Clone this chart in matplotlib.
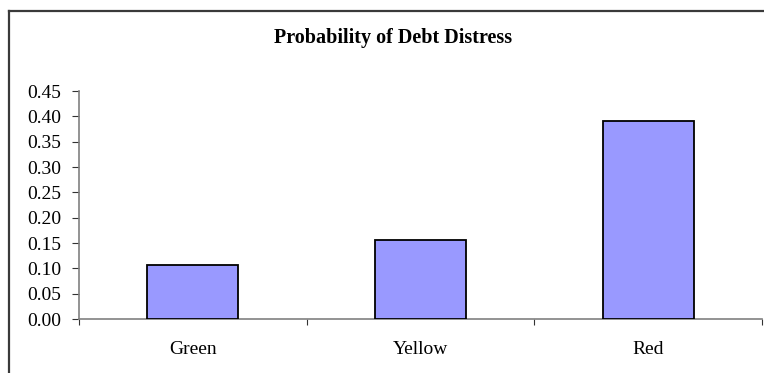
import matplotlib
matplotlib.use("Agg")
import matplotlib.pyplot as plt
from matplotlib.lines import Line2D
import numpy as np

categories = ["Green", "Yellow", "Red"]
probabilities = [0.107, 0.155, 0.390]
y_ticks = [0.00, 0.05, 0.10, 0.15, 0.20, 0.25, 0.30, 0.35, 0.40, 0.45]
title = "Probability of Debt Distress"

plt.rcParams['font.family'] = ['Liberation Serif', 'DejaVu Serif']

W, H = 764, 373
fig = plt.figure(figsize=(W / 100, H / 100), dpi=100)
ax = fig.add_axes([79 / W, 1 - 319 / H, (762 - 79) / W, (319 - 91) / H])

x = np.arange(len(categories))
ax.bar(x, probabilities, width=0.4, color="#9999FF", edgecolor="black", linewidth=1.3, zorder=3)

ax.set_xlim(-0.5, len(categories) - 0.5)
ax.set_ylim(0, 0.45)
ax.set_yticks(y_ticks)
ax.set_yticklabels([f"{v:.2f}" for v in y_ticks], fontsize=14)
ax.set_xticks(x)
ax.set_xticklabels(categories, fontsize=14)
ax.set_xticks(np.arange(-0.5, len(categories)), minor=True)

ax.tick_params(axis='y', direction='out', length=5, width=0.8, color='#333333', pad=8)
ax.tick_params(axis='x', which='major', length=0, pad=16)
ax.tick_params(axis='x', which='minor', direction='out', length=4, width=0.8, color='#333333')

for s in ['top', 'right']:
    ax.spines[s].set_visible(False)
for s in ['left', 'bottom']:
    ax.spines[s].set_color('#808080')
    ax.spines[s].set_linewidth(1.2)

fig.text(393 / W, 1 - 43 / H, title, ha='center', va='baseline',
         fontsize=14.5, fontweight='bold')

# outer chart border (extends beyond image right/bottom)
fig.add_artist(Line2D([9 / W, 1.01], [1 - 11 / H, 1 - 11 / H], transform=fig.transFigure,
                      color='#3a3a3a', linewidth=1.6))
fig.add_artist(Line2D([9 / W, 9 / W], [1 - 11 / H, -0.01], transform=fig.transFigure,
                      color='#3a3a3a', linewidth=1.6))

fig.savefig("out.png", dpi=100)
